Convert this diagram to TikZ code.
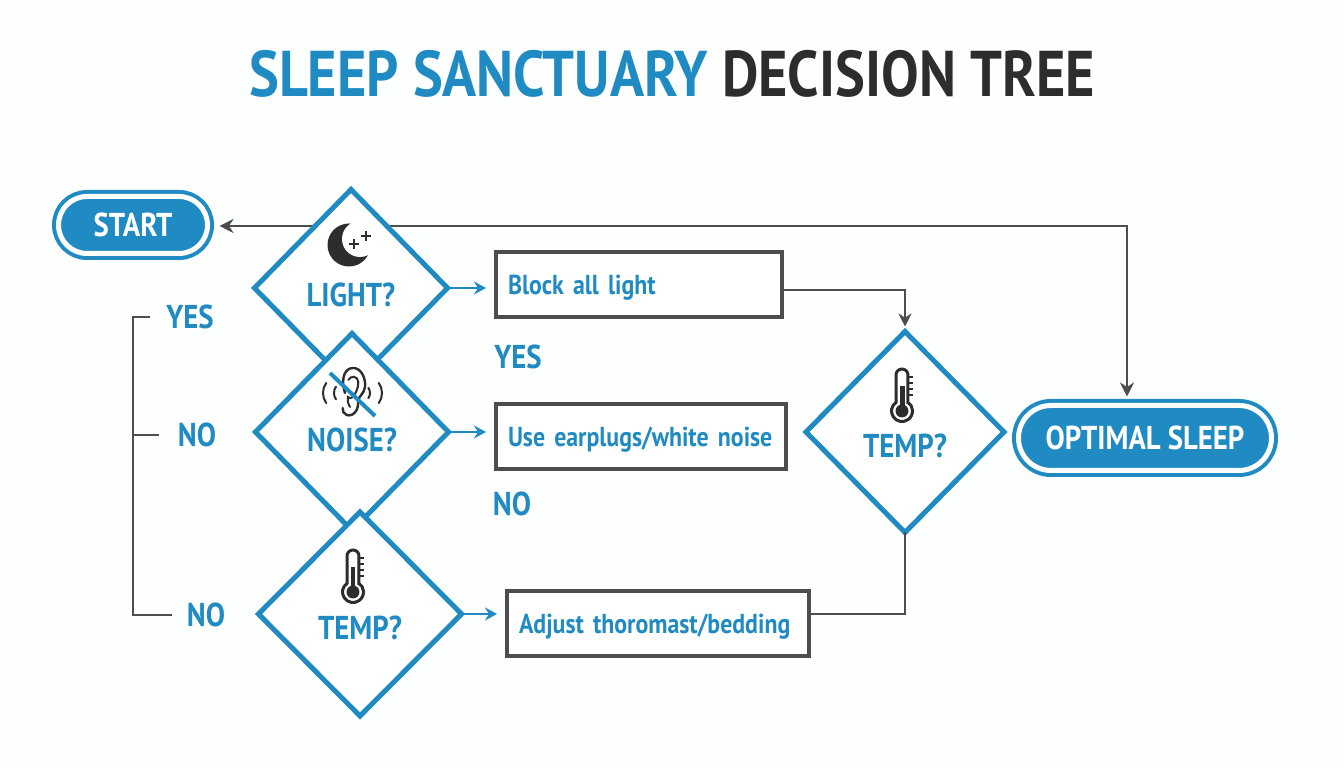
\documentclass[tikz,border=0pt]{standalone}
\usepackage{fontspec}
\setmainfont[FakeStretch=0.87]{PT Sans}
\usetikzlibrary{shapes.geometric, shapes.misc, arrows.meta, positioning, calc}
\definecolor{sleepblue}{RGB}{32, 139, 194}
\definecolor{linegray}{RGB}{77, 77, 80}
\definecolor{inkdark}{RGB}{45, 45, 48}
\definecolor{paperwhite}{RGB}{253, 254, 254}

\begin{document}
\begin{tikzpicture}[
  decision/.style={diamond, draw=sleepblue, fill=white, line width=0.05cm, inner sep=0pt, outer sep=0pt},
  terminal/.style={rounded rectangle, draw=sleepblue, fill=sleepblue, line width=0.04cm, double=white, double distance=0.05cm, inner sep=0pt, outer sep=0pt, text=white, font=\fontsize{9.4}{11}\bfseries},
  actionbox/.style={draw=linegray, fill=white, line width=0.045cm, inner xsep=0.12cm, inner ysep=0pt, outer sep=0pt, align=left, minimum height=0.65cm, text depth=0pt, text=sleepblue, font=\fontsize{7.8}{10}\bfseries},
  question/.style={text=sleepblue, font=\fontsize{9.4}{11}\bfseries, inner sep=0pt},
  branch/.style={text=sleepblue, font=\fontsize{9.4}{11}\bfseries, inner sep=0pt},
  flow/.style={-{Stealth[length=0.12cm, width=0.13cm]}, sleepblue, line width=0.028cm},
  link/.style={linegray, line width=0.028cm},
  thermo/.pic={
    \begin{scope}[x=0.01cm, y=0.01cm]
      \draw[inkdark, line width=0.03cm, fill=white] (6,8.6) -- (6,36) arc[start angle=0, end angle=180, radius=6] -- (-6,8.6) arc[start angle=125, end angle=415, radius=10.5] -- cycle;
      \fill[inkdark] (0,0) circle (6.5);
      \fill[inkdark] (-2.5,0) rectangle (2.5,25);
      \foreach \ty in {16,22,28,34} \draw[inkdark, line width=0.02cm] (6,\ty) -- (11,\ty);
    \end{scope}
  }
]
  \useasboundingbox (0,0) rectangle (13.44,7.68);
  \fill[paperwhite] (0,0) rectangle (13.44,7.68);

  % Title
  \node[inner sep=0pt, font=\fontsize{18.4}{20}\bfseries] (title) at (6.72, 6.94) {\textcolor{sleepblue}{SLEEP SANCTUARY} \textcolor{inkdark}{DECISION TREE}};

  % Start and end
  \node[terminal, minimum width=1.49cm, minimum height=0.57cm] (start) at (1.33, 5.43) {START};
  \node[terminal, minimum width=2.53cm, minimum height=0.65cm] (sleep) at (11.45, 3.30) {OPTIMAL SLEEP};

  % Return line
  \coordinate (corner) at (11.27, 5.42);
  \draw[link, {Stealth[length=0.14cm, width=0.14cm]}-{Stealth[length=0.14cm, width=0.14cm]}, shorten <=0.12cm, shorten >=0.09cm] (start.east |- corner) -- (corner) -- (sleep.north -| corner);

  % Questions
  \node[decision, minimum width=1.93cm, minimum height=1.97cm] (light) at (3.51, 4.80) {};
  \node[decision, minimum width=1.93cm, minimum height=1.97cm] (noise) at (3.52, 3.36) {};
  \node[decision, minimum width=2.03cm, minimum height=2.04cm] (temp) at (3.60, 1.54) {};
  \node[decision, minimum width=1.98cm, minimum height=2.01cm] (check) at (9.05, 3.36) {};
  \node[question] (lighttext) at (3.51, 4.73) {LIGHT?};
  \node[question] (noisetext) at (3.52, 3.28) {NOISE?};
  \node[question] (temptext) at (3.60, 1.40) {TEMP?};
  \node[question] (checktext) at (9.05, 3.22) {TEMP?};

  % Moon icon
  \fill[inkdark] (3.49, 5.23) circle (0.215);
  \fill[white] (3.60, 5.29) circle (0.18);
  \draw[inkdark, line width=0.014cm] (3.49, 5.24) -- (3.59, 5.24) (3.54, 5.19) -- (3.54, 5.29);
  \draw[inkdark, line width=0.014cm] (3.61, 5.32) -- (3.71, 5.32) (3.66, 5.27) -- (3.66, 5.37);

  % Ear icon
  \draw[inkdark, line width=0.024cm, line cap=round] (3.45, 3.75) .. controls (3.40, 3.92) and (3.46, 4.00) .. (3.533, 4.00) .. controls (3.61, 4.00) and (3.66, 3.90) .. (3.65, 3.81) .. controls (3.64, 3.74) and (3.59, 3.72) .. (3.583, 3.68) .. controls (3.58, 3.63) and (3.58, 3.60) .. (3.567, 3.58) .. controls (3.54, 3.53) and (3.50, 3.52) .. (3.467, 3.53) .. controls (3.44, 3.54) and (3.42, 3.57) .. (3.427, 3.60);
  \draw[inkdark, line width=0.02cm, line cap=round] (3.483, 3.88) .. controls (3.51, 3.93) and (3.58, 3.92) .. (3.583, 3.86) .. controls (3.585, 3.79) and (3.55, 3.74) .. (3.53, 3.71) .. controls (3.51, 3.69) and (3.49, 3.70) .. (3.48, 3.71) .. controls (3.47, 3.66) and (3.49, 3.63) .. (3.50, 3.61);
  \draw[inkdark, line width=0.02cm, line cap=round] ($(3.405, 3.75)+(145:0.175)$) arc[start angle=145, end angle=215, radius=0.175];
  \draw[inkdark, line width=0.02cm, line cap=round] ($(3.45, 3.75)+(145:0.11)$) arc[start angle=145, end angle=215, radius=0.11];
  \draw[inkdark, line width=0.02cm, line cap=round] ($(3.645, 3.75)+(35:0.175)$) arc[start angle=35, end angle=-35, radius=0.175];
  \draw[inkdark, line width=0.02cm, line cap=round] ($(3.61, 3.75)+(35:0.09)$) arc[start angle=35, end angle=-35, radius=0.09];
  \draw[sleepblue, line width=0.04cm] (3.30, 3.95) -- (3.75, 3.52);

  % Thermometers
  \pic at (3.53, 1.76) {thermo};
  \pic at (9.02, 3.57) {thermo};

  % Action boxes
  \node[actionbox, text width=2.62cm] (block) at (6.39, 4.835) {\mbox{Block all light}};
  \node[actionbox, text width=2.66cm] (plugs) at (6.41, 3.315) {\mbox{Use earplugs/white noise}};
  \node[actionbox, text width=2.78cm] (adjust) at (6.58, 1.445) {\mbox{Adjust thoromast/bedding}};

  % Arrows
  \draw[flow, shorten >=0.10cm] (light.east) -- (light.east -| block.west);
  \draw[flow, shorten >=0.10cm] (noise.east) -- (noise.east -| plugs.west);
  \draw[flow, shorten >=0.10cm] (temp.east) -- (temp.east -| adjust.west);
  \coordinate (blockout) at (7.83, 4.78);
  \draw[link, -{Stealth[length=0.13cm, width=0.13cm]}, shorten >=0.05cm] (blockout) -| (check.north);
  \draw[link] (adjust.east |- temp.east) -| (check.south);

  % Branch labels
  \node[branch] (yesleft) at (1.90, 4.51) {YES};
  \node[branch] (noleft) at (1.97, 3.33) {NO};
  \node[branch] (nobottom) at (2.06, 1.53) {NO};
  \node[branch] (yesmid) at (5.18, 4.11) {YES};
  \node[branch] (nomid) at (5.12, 2.64) {NO};
  \coordinate (spinetop) at (1.33, 4.51);
  \coordinate (spinemid) at (1.33, 3.33);
  \coordinate (spinebot) at (1.33, 1.53);
  \draw[link, shorten <=0.16cm, shorten >=0.14cm] (yesleft.west) -- (spinetop) -- (spinebot) -- (nobottom.west);
  \draw[link, shorten >=0.18cm] (spinemid) -- (noleft.west);
\end{tikzpicture}
\end{document}
